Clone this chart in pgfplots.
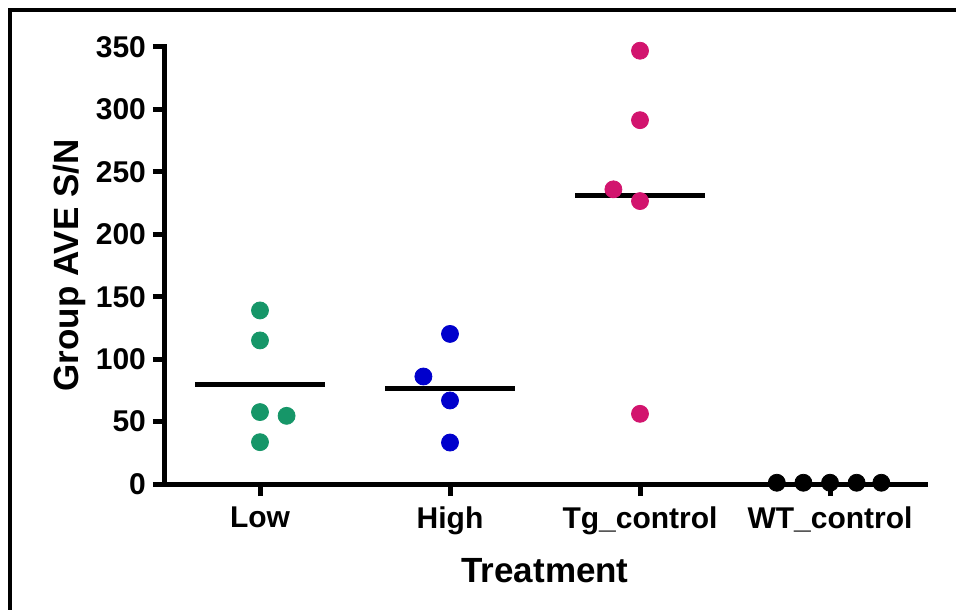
\documentclass[border=0pt]{standalone}
\usepackage{pgfplots}
\pgfplotsset{compat=1.18}
\usepackage{fontspec}
\setmainfont{Liberation Sans}
\definecolor{cgreen}{RGB}{22,150,104}
\definecolor{cblue}{RGB}{0,0,204}
\definecolor{cmag}{RGB}{210,20,110}
\begin{document}
\begin{tikzpicture}
\useasboundingbox (-82.5pt,-62.5pt) rectangle (395.5pt,242pt);
\draw[line width=1.6pt] (-77.5pt,-70pt) -- (-77.5pt,237pt) -- (396pt,237pt);
\begin{axis}[
  at={(0,0)}, anchor=south west,
  scale only axis,
  width=380pt, height=218.5pt,
  xmin=-0.5, xmax=3.5,
  ymin=0, ymax=350,
  axis x line=bottom, axis y line=left,
  axis line style={-, line width=2.5pt, line cap=rect},
  xtick={0,1,2,3},
  xticklabels={Low,High,Tg\_control,WT\_control},
  ytick={0,50,100,150,200,250,300,350},
  tick align=outside,
  major tick length=6pt,
  every tick/.style={black, line width=2.5pt},
  tick label style={font=\fontsize{15}{18}\selectfont\bfseries},
  /pgf/number format/assume math mode=true,
  xticklabel style={yshift=-2pt},
  xlabel={Treatment}, ylabel={Group AVE S/N},
  label style={font=\fontsize{17.5}{21}\selectfont\bfseries},
  xlabel style={yshift=-5pt},
  ylabel style={yshift=-2pt},
  clip=false,
]
% mean lines
\addplot[black, line width=2.3pt, forget plot] coordinates {(-0.34,79.5) (0.34,79.5)};
\addplot[black, line width=2.3pt, forget plot] coordinates {(0.66,76.3) (1.34,76.3)};
\addplot[black, line width=2.3pt, forget plot] coordinates {(1.66,231.3) (2.34,231.3)};
% points
\addplot[only marks, mark=*, mark size=4.25pt, cgreen]
  coordinates {(0,139) (0,115) (0,57.6) (0.14,54.6) (0,33.5)};
\addplot[only marks, mark=*, mark size=4.25pt, cblue]
  coordinates {(1,120.2) (0.86,86.1) (1,66.9) (1,33.2)};
\addplot[only marks, mark=*, mark size=4.25pt, cmag]
  coordinates {(2,347) (2,291.4) (1.86,236) (2,226.6) (2,56.2)};
\addplot[only marks, mark=*, mark size=4.25pt, black]
  coordinates {(2.72,1) (2.86,1) (3,1) (3.14,1) (3.27,1)};
\end{axis}
\end{tikzpicture}
\end{document}
